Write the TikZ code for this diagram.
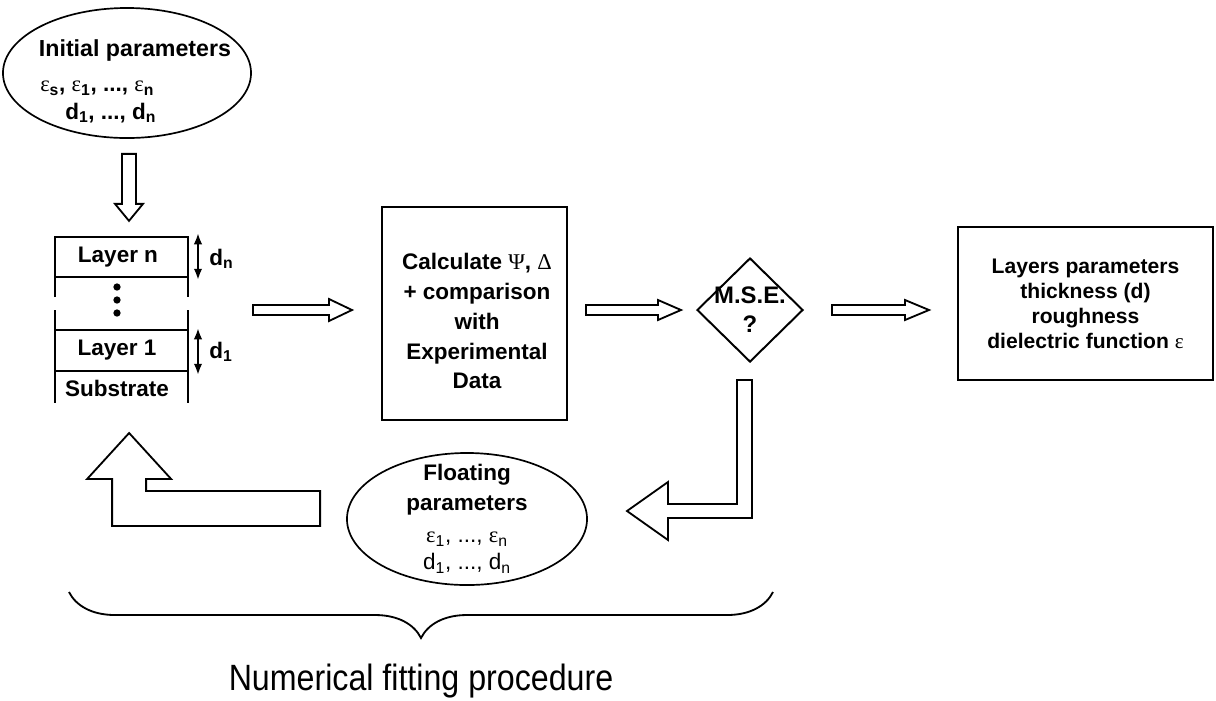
\documentclass[tikz,border=0pt]{standalone}
\usepackage{fontspec}
\setmainfont{Liberation Sans}
\newfontfamily\greekfont{Liberation Serif}
\newfontfamily\narrowfont[FakeStretch=0.88]{Liberation Sans}
\usetikzlibrary{shapes.geometric,calc,arrows.meta,decorations.pathreplacing}
\newcommand{\grk}[1]{{\greekfont\mdseries #1}}
\newcommand{\eps}[1]{\grk{ε}\textsubscript{#1}}
\begin{document}
\begin{tikzpicture}[
  x=0.025cm, y=-0.025cm,
  every node/.style={align=center, inner sep=0pt, font=\bfseries\fontsize{16}{21.3}\selectfont},
  oval/.style={draw, ellipse, line width=1.2pt},
  box/.style={draw, line width=1.4pt},
  blk/.style={draw, line width=1.3pt, line join=miter, fill=white},
  layer/.style={line width=1.4pt},
  thickness/.style={line width=1.5pt, {Latex[length=8pt,width=6pt]}-{Latex[length=8pt,width=6pt]}}
]
\useasboundingbox (0,0) rectangle (1216,700);
\node[oval, minimum width=6.2cm, minimum height=3.25cm] (init) at (127,73) {};
\node[font=\bfseries\fontsize{16.5}{20}\selectfont] (initname) at (135,50) {Initial parameters};
\node[anchor=west] (initeps) at (40,88) {\eps{s}, \eps{1}, ..., \eps{n}};
\node[anchor=west] (initd) at (65,113) {d\textsubscript{1}, ..., d\textsubscript{n}};
\draw[layer] (55,297) -- (55,237) -- (188,237) -- (188,297);
\draw[layer] (55,277) -- (188,277);
\draw[layer] (55,310) -- (55,403) (188,310) -- (188,403);
\draw[layer] (55,330) -- (188,330) (55,371) -- (188,371);
\foreach \y in {287,300,313} \fill (117,\y) circle[radius=2.6pt];
\node (layern) at (118,257) {Layer n};
\node (layer1) at (117,350) {Layer 1};
\node (substrate) at (117,388) {Substrate};
\draw[thickness] (198,233) -- (198,280);
\draw[thickness] (198,328) -- (198,375);
\node[anchor=west] (dn) at (209,259) {d\textsubscript{n}};
\node[anchor=west] (d1) at (209,352) {d\textsubscript{1}};
\coordinate (stack) at (188,310);
\node[box, minimum width=4.625cm, minimum height=5.325cm] (calc) at (474.5,313.5) {};
\node (calctext) at (477,321) {Calculate \grk{Ψ}, \grk{Δ}\\+ comparison\\with\\Experimental\\Data};
\node[box, diamond, minimum width=2.65cm, minimum height=2.6cm] (mse) at (750,310) {};
\node[font=\bfseries\fontsize{17}{20.6}\selectfont] (msetext) at (mse) {M.S.E.\\?};
\node[box, minimum width=6.375cm, minimum height=3.825cm, font=\bfseries\fontsize{15}{17.8}\selectfont] (result) at (1085.5,303.5) {Layers parameters\\thickness (d)\\roughness\\dielectric function \grk{ε}};
\node[oval, minimum width=6cm, minimum height=3.3cm] (float) at (467,519) {};
\node (floatname) at (467,490) {Floating\\parameters};
\node[font=\fontsize{16}{19.2}\selectfont] (floatvars) at (467,553) {\eps{1}, ..., \eps{n}\\d\textsubscript{1}, ..., d\textsubscript{n}};
\draw[blk] ($(init.south)+(-5,15)$) -- ++(0,50) -- ++(-7,0) -- ++(14,17) -- ++(14,-17) -- ++(-7,0) -- ++(0,-50) -- cycle;
\draw[blk] ($(stack)+(65,-5)$) -- ++(76,0) -- ++(0,-6) -- ++(23,11) -- ++(-23,11) -- ++(0,-6) -- ++(-76,0) -- cycle;
\draw[blk] ($(calc.east |- mse)+(18,-5)$) -- ++(72,0) -- ++(0,-5) -- ++(23,10) -- ++(-23,10) -- ++(0,-5) -- ++(-72,0) -- cycle;
\draw[blk] ($(mse.east)+(28,-5)$) -- ++(73,0) -- ++(0,-5) -- ++(24,10) -- ++(-24,10) -- ++(0,-5) -- ++(-73,0) -- cycle;
\draw[blk] ($(mse.south)+(-13,17)$) -- ++(15,0) -- ++(0,138) -- ++(-84,0) -- ++(0,22) -- ++(-41,-29) -- ++(41,-29) -- ++(0,22) -- ++(69,0) -- cycle;
\draw[blk] ($(float.west)+(-26,-28)$) -- ++(-174,0) -- ++(0,-12) -- ++(25,0) -- ++(-42,-46) -- ++(-42,46) -- ++(25,0) -- ++(0,47) -- ++(208,0) -- cycle;
\coordinate (fitleft) at (69,592);
\coordinate (fitright) at (773,592);
\draw[line width=1.3pt, decorate, decoration={brace, mirror, amplitude=1.15cm}] (fitleft) -- (fitright);
\node[font=\narrowfont\fontsize{26}{30}\selectfont] (fitting) at (421,681) {Numerical fitting procedure};
\end{tikzpicture}
\end{document}
